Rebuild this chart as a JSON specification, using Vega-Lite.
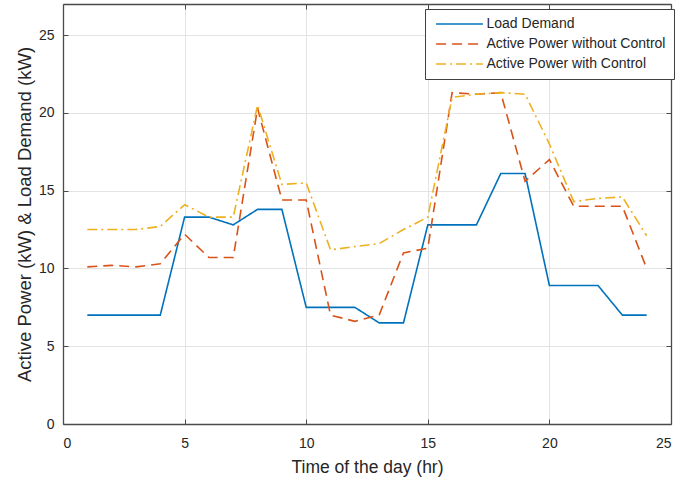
{
  "$schema": "https://vega.github.io/schema/vega-lite/v6.json",
  "width": 608,
  "height": 420,
  "autosize": {"type": "none"},
  "padding": {"left": 63, "top": 4, "right": 22, "bottom": 55},
  "background": "white",
  "config": {
    "font": "Liberation Sans",
    "view": {"stroke": null},
    "axis": {
      "domainColor": "#4a4a4a",
      "domainWidth": 1.3,
      "tickColor": "#4a4a4a",
      "tickSize": -5,
      "tickWidth": 1,
      "labelFontSize": 14,
      "labelColor": "#262626",
      "labelFont": "Liberation Sans",
      "titleFont": "Liberation Sans",
      "titleFontWeight": "normal",
      "titleColor": "#262626",
      "gridColor": "#e3e3e3",
      "gridWidth": 1
    },
    "legend": {
      "orient": "none",
      "legendX": 362,
      "legendY": 5,
      "title": null,
      "strokeColor": "#404040",
      "fillColor": "white",
      "padding": 8,
      "labelFontSize": 14,
      "labelFont": "Liberation Sans",
      "labelColor": "#262626",
      "symbolType": "M-3.9,0H3.9",
      "symbolSize": 144,
      "symbolOffset": 19.5,
      "symbolStrokeWidth": 1.5,
      "labelOffset": 20,
      "rowPadding": 6,
      "labelLimit": 300
    }
  },
  "data": {
    "values": [
      {"hour": 1, "value": 7.0, "series": "Load Demand"},
      {"hour": 2, "value": 7.0, "series": "Load Demand"},
      {"hour": 3, "value": 7.0, "series": "Load Demand"},
      {"hour": 4, "value": 7.0, "series": "Load Demand"},
      {"hour": 5, "value": 13.3, "series": "Load Demand"},
      {"hour": 6, "value": 13.3, "series": "Load Demand"},
      {"hour": 7, "value": 12.8, "series": "Load Demand"},
      {"hour": 8, "value": 13.8, "series": "Load Demand"},
      {"hour": 9, "value": 13.8, "series": "Load Demand"},
      {"hour": 10, "value": 7.5, "series": "Load Demand"},
      {"hour": 11, "value": 7.5, "series": "Load Demand"},
      {"hour": 12, "value": 7.5, "series": "Load Demand"},
      {"hour": 13, "value": 6.5, "series": "Load Demand"},
      {"hour": 14, "value": 6.5, "series": "Load Demand"},
      {"hour": 15, "value": 12.8, "series": "Load Demand"},
      {"hour": 16, "value": 12.8, "series": "Load Demand"},
      {"hour": 17, "value": 12.8, "series": "Load Demand"},
      {"hour": 18, "value": 16.1, "series": "Load Demand"},
      {"hour": 19, "value": 16.1, "series": "Load Demand"},
      {"hour": 20, "value": 8.9, "series": "Load Demand"},
      {"hour": 21, "value": 8.9, "series": "Load Demand"},
      {"hour": 22, "value": 8.9, "series": "Load Demand"},
      {"hour": 23, "value": 7.0, "series": "Load Demand"},
      {"hour": 24, "value": 7.0, "series": "Load Demand"},
      {"hour": 1, "value": 10.1, "series": "Active Power without Control"},
      {"hour": 2, "value": 10.2, "series": "Active Power without Control"},
      {"hour": 3, "value": 10.1, "series": "Active Power without Control"},
      {"hour": 4, "value": 10.3, "series": "Active Power without Control"},
      {"hour": 5, "value": 12.2, "series": "Active Power without Control"},
      {"hour": 6, "value": 10.7, "series": "Active Power without Control"},
      {"hour": 7, "value": 10.7, "series": "Active Power without Control"},
      {"hour": 8, "value": 20.3, "series": "Active Power without Control"},
      {"hour": 9, "value": 14.4, "series": "Active Power without Control"},
      {"hour": 10, "value": 14.4, "series": "Active Power without Control"},
      {"hour": 11, "value": 7.0, "series": "Active Power without Control"},
      {"hour": 12, "value": 6.6, "series": "Active Power without Control"},
      {"hour": 13, "value": 7.0, "series": "Active Power without Control"},
      {"hour": 14, "value": 11.0, "series": "Active Power without Control"},
      {"hour": 15, "value": 11.3, "series": "Active Power without Control"},
      {"hour": 16, "value": 21.3, "series": "Active Power without Control"},
      {"hour": 17, "value": 21.2, "series": "Active Power without Control"},
      {"hour": 18, "value": 21.3, "series": "Active Power without Control"},
      {"hour": 19, "value": 15.6, "series": "Active Power without Control"},
      {"hour": 20, "value": 17.0, "series": "Active Power without Control"},
      {"hour": 21, "value": 14.0, "series": "Active Power without Control"},
      {"hour": 22, "value": 14.0, "series": "Active Power without Control"},
      {"hour": 23, "value": 14.0, "series": "Active Power without Control"},
      {"hour": 24, "value": 10.0, "series": "Active Power without Control"},
      {"hour": 1, "value": 12.5, "series": "Active Power with Control"},
      {"hour": 2, "value": 12.5, "series": "Active Power with Control"},
      {"hour": 3, "value": 12.5, "series": "Active Power with Control"},
      {"hour": 4, "value": 12.7, "series": "Active Power with Control"},
      {"hour": 5, "value": 14.1, "series": "Active Power with Control"},
      {"hour": 6, "value": 13.3, "series": "Active Power with Control"},
      {"hour": 7, "value": 13.3, "series": "Active Power with Control"},
      {"hour": 8, "value": 20.5, "series": "Active Power with Control"},
      {"hour": 9, "value": 15.4, "series": "Active Power with Control"},
      {"hour": 10, "value": 15.5, "series": "Active Power with Control"},
      {"hour": 11, "value": 11.2, "series": "Active Power with Control"},
      {"hour": 12, "value": 11.4, "series": "Active Power with Control"},
      {"hour": 13, "value": 11.6, "series": "Active Power with Control"},
      {"hour": 14, "value": 12.5, "series": "Active Power with Control"},
      {"hour": 15, "value": 13.3, "series": "Active Power with Control"},
      {"hour": 16, "value": 21.0, "series": "Active Power with Control"},
      {"hour": 17, "value": 21.2, "series": "Active Power with Control"},
      {"hour": 18, "value": 21.3, "series": "Active Power with Control"},
      {"hour": 19, "value": 21.2, "series": "Active Power with Control"},
      {"hour": 20, "value": 18.0, "series": "Active Power with Control"},
      {"hour": 21, "value": 14.3, "series": "Active Power with Control"},
      {"hour": 22, "value": 14.5, "series": "Active Power with Control"},
      {"hour": 23, "value": 14.6, "series": "Active Power with Control"},
      {"hour": 24, "value": 12.1, "series": "Active Power with Control"}
    ]
  },
  "layer": [
    {
      "mark": {"type": "line", "strokeWidth": 1.6},
      "encoding": {
        "x": {
          "field": "hour", "type": "quantitative",
          "scale": {"domain": [0, 25], "nice": false, "zero": false},
          "axis": {"orient": "bottom", "values": [0, 5, 10, 15, 20, 25], "title": "Time of the day (hr)", "titleFontSize": 17.5, "labelPadding": 17, "titlePadding": 8, "grid": true}
        },
        "y": {
          "field": "value", "type": "quantitative",
          "scale": {"domain": [0, 27], "nice": false},
          "axis": {"orient": "left", "values": [0, 5, 10, 15, 20, 25], "title": "Active Power (kW) & Load Demand (kW)", "titleFontSize": 18.5, "labelPadding": 14, "titlePadding": 4, "grid": true}
        },
        "color": {
          "field": "series", "type": "nominal",
          "scale": {"domain": ["Load Demand", "Active Power without Control", "Active Power with Control"], "range": ["#0072BD", "#D95319", "#EDB120"]}
        },
        "strokeDash": {
          "field": "series", "type": "nominal",
          "scale": {"domain": ["Load Demand", "Active Power without Control", "Active Power with Control"], "range": [[1, 0], [10, 6], [10, 4, 2, 4]]}
        }
      }
    },
    {
      "mark": {"type": "point", "opacity": 0},
      "encoding": {
        "x": {
          "field": "hour", "type": "quantitative",
          "scale": {"domain": [0, 25], "nice": false, "zero": false},
          "axis": {"orient": "top", "values": [0, 5, 10, 15, 20, 25], "labels": false, "title": null, "grid": false}
        },
        "y": {
          "field": "value", "type": "quantitative",
          "scale": {"domain": [0, 27], "nice": false},
          "axis": {"orient": "right", "values": [0, 5, 10, 15, 20, 25], "labels": false, "title": null, "grid": false}
        }
      }
    }
  ],
  "resolve": {"axis": {"x": "independent", "y": "independent"}}
}
